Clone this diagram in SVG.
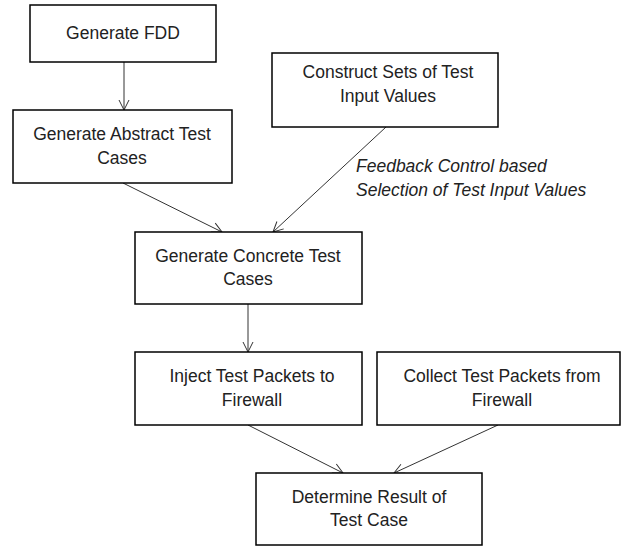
<svg xmlns="http://www.w3.org/2000/svg" width="621" height="546" viewBox="0 0 621 546">
<style>
.box{fill:#fff;stroke:#000;stroke-width:1.5}
.t{font-family:"Liberation Sans",Arial,sans-serif;font-size:17.5px;fill:#222;text-anchor:middle}
.lbl{font-family:"Liberation Sans",Arial,sans-serif;font-size:17.5px;font-style:italic;fill:#222}
.c{stroke:#333;stroke-width:1;fill:none;marker-end:url(#ah)}
</style>
<defs>
<marker id="ah" viewBox="0 0 12 12" refX="11" refY="6" markerWidth="12" markerHeight="12" markerUnits="userSpaceOnUse" orient="auto">
<path d="M1,1 L11,6 L1,11" fill="none" stroke="#333" stroke-width="1"/>
</marker>
</defs>
<rect width="621" height="546" fill="#fff"/>
<g id="connectors">
<line class="c" x1="124" y1="62" x2="124" y2="110"/>
<line class="c" x1="123" y1="183" x2="222" y2="232"/>
<line class="c" x1="386" y1="127" x2="273" y2="232"/>
<line class="c" x1="248" y1="304" x2="248" y2="352"/>
<line class="c" x1="248" y1="425" x2="343" y2="473"/>
<line class="c" x1="498" y1="425" x2="394" y2="473"/>
<text class="lbl" x="356" y="172">Feedback Control based</text>
<text class="lbl" x="356" y="196">Selection of Test Input Values</text>
</g>
<g id="n1">
<rect class="box" x="30" y="5" width="186" height="57"/>
<text class="t" x="123" y="39">Generate FDD</text>
</g>
<g id="n2">
<rect class="box" x="13" y="110" width="219" height="73"/>
<text class="t" x="122" y="140">Generate Abstract Test</text>
<text class="t" x="122" y="164">Cases</text>
</g>
<g id="n3">
<rect class="box" x="272" y="53" width="226" height="74"/>
<text class="t" x="388" y="78">Construct Sets of Test</text>
<text class="t" x="388" y="102">Input Values</text>
</g>
<g id="n4">
<rect class="box" x="135" y="232" width="227" height="72"/>
<text class="t" x="248" y="262">Generate Concrete Test</text>
<text class="t" x="248" y="285">Cases</text>
</g>
<g id="n5">
<rect class="box" x="135" y="352" width="227" height="73"/>
<text class="t" x="252" y="382">Inject Test Packets to</text>
<text class="t" x="252" y="406">Firewall</text>
</g>
<g id="n6">
<rect class="box" x="377" y="352" width="243" height="73"/>
<text class="t" x="502" y="382">Collect Test Packets from</text>
<text class="t" x="502" y="406">Firewall</text>
</g>
<g id="n7">
<rect class="box" x="256" y="473" width="226" height="72"/>
<text class="t" x="369" y="503">Determine Result of</text>
<text class="t" x="369" y="526">Test Case</text>
</g>
</svg>
